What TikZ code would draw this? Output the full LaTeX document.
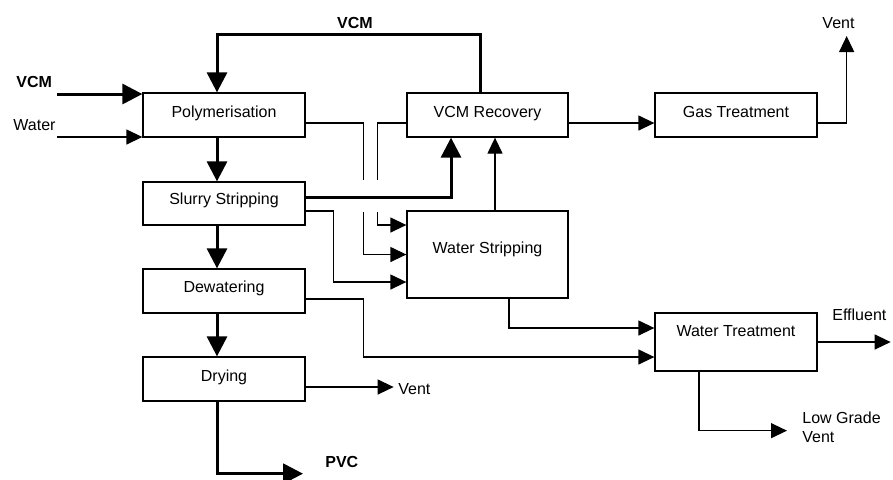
\documentclass[tikz,border=0pt]{standalone}
\usepackage{fontspec}
\setmainfont{Liberation Sans}
\usetikzlibrary{arrows.meta}
\begin{document}
\begin{tikzpicture}[x=0.5pt,y=-0.5pt,
  unit/.style={draw,line width=0.65pt,inner sep=0pt,minimum width=81pt,minimum height=22pt},
  txt/.style={inner sep=0pt,font=\fontsize{8}{9.5}\selectfont,anchor=base},
  btxt/.style={txt,font=\fontsize{8}{9.5}\selectfont\bfseries},
  thinflow/.style={line width=0.65pt,-{Triangle[length=8pt,width=7.5pt]}},
  thickflow/.style={line width=1.5pt,-{Triangle[length=10pt,width=10pt]}}]
\useasboundingbox (0,0) rectangle (893,479);

% process units
\node[unit] (poly) at (224,115) {};
\node[unit,minimum height=21.5pt] (slurry) at (224,203.5) {};
\node[unit] (dew) at (224,291) {};
\node[unit] (dry) at (224,379) {};
\node[unit,minimum width=80.5pt] (vcmr) at (487.5,115) {};
\node[unit] (gt) at (736,115) {};
\node[unit,minimum width=80.5pt,minimum height=43.5pt] (ws) at (487.5,254.5) {};
\node[unit,minimum height=29pt] (wt) at (736,342) {};

% unit labels
\node[txt] (poly-t) at (224,117) {Polymerisation};
\node[txt] (slurry-t) at (224,204) {Slurry Stripping};
\node[txt] (dew-t) at (224,292) {Dewatering};
\node[txt] (dry-t) at (224,381) {Drying};
\node[txt] (vcmr-t) at (487.5,117) {VCM Recovery};
\node[txt] (gt-t) at (736,117) {Gas Treatment};
\node[txt] (ws-t) at (487.5,253) {Water Stripping};
\node[txt] (wt-t) at (736,336) {Water Treatment};

% stream labels
\node[btxt,anchor=base west] (vcm-in-t) at (16,87) {VCM};
\node[txt,anchor=base west] (water-in-t) at (13,130) {Water};
\node[btxt] (vcm-rec-t) at (355,28) {VCM};
\node[txt] (vent1-t) at (838.5,28) {Vent};
\node[txt,anchor=base west] (vent2-t) at (398,394) {Vent};
\node[btxt,anchor=base west] (pvc-t) at (325,467) {PVC};
\node[txt,anchor=base west] (eff-t) at (832,320) {Effluent};
\node[txt,anchor=base west] (lgv-t) at (802,423) {Low Grade};
\node[txt,anchor=base west] (lgv2-t) at (802,442) {Vent};

% feeds
\coordinate (vcmin) at (57,94);
\coordinate (waterin) at (57,137);
\draw[thickflow] (vcmin) -- (vcmin -| poly.west);
\draw[thinflow] (waterin) -- (waterin -| poly.west);

% main solids line
\draw[thickflow] ([xshift=-3.5pt]poly.south) -- ([xshift=-3.5pt]slurry.north);
\draw[thickflow] ([xshift=-3.5pt]slurry.south) -- ([xshift=-3.5pt]dew.north);
\draw[thickflow] ([xshift=-3.5pt]dew.south) -- ([xshift=-3.5pt]dry.north);
\draw[thickflow] ([xshift=-3.5pt]dry.south) -- ++(0,72) -- ++(86,0);
\draw[thinflow] ([yshift=-4pt]dry.east) -- ++(88,0);

% recovered VCM recycle
\draw[thickflow] (vcmr.north) ++(-7.5,0) -- ++(0,-58) -| ([xshift=-3.5pt]poly.north);
\draw[thickflow] ([yshift=3.25pt]slurry.east) -| ([xshift=-18.25pt]vcmr.south);

% water streams to stripping (with line jumps)
\draw[thinflow] ([yshift=-4pt]poly.east) -- ++(58,0) -- ++(0,57) ++(0,32) |- (ws.west);
\draw[thinflow] ([yshift=-4pt]vcmr.west) -- ++(-29,0) -- ++(0,57) ++(0,32) |- ([yshift=14.75pt]ws.west);
\draw[thinflow] ([yshift=-3.75pt]slurry.east) -- ++(28,0) |- ([yshift=-13.75pt]ws.west);
\draw[thinflow] ([xshift=3.75pt]ws.north) -- ([xshift=3.75pt]vcmr.south);

% gas treatment
\draw[thinflow] ([yshift=-4pt]vcmr.east) -- ([yshift=-4pt]gt.west);
\draw[thinflow] ([yshift=-4pt]gt.east) -- ++(29,0) -- ++(0,-87);

% water treatment
\draw[thinflow] ([yshift=-4pt]dew.east) -- ++(58,0) |- ([yshift=-7.5pt]wt.west);
\draw[thinflow] ([xshift=10.75pt]ws.south) |- ([yshift=7pt]wt.west);
\draw[thinflow] (wt.east) -- ++(73,0);
\draw[thinflow] ([xshift=-18.5pt]wt.south) -- ++(0,59) -- ++(88,0);
\end{tikzpicture}
\end{document}
